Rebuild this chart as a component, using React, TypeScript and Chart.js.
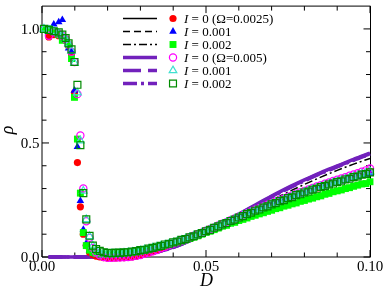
import React, { useEffect, useRef } from 'react';
import { Chart, registerables } from 'chart.js';

Chart.register(...registerables);

// ---------- data ----------
const D_DROP = [0.0006, 0.0021, 0.0036, 0.0051, 0.0062, 0.0072, 0.0081, 0.009, 0.0099, 0.0108, 0.0117, 0.0126, 0.0135, 0.0145, 0.0155, 0.0165, 0.0176, 0.0188];
const D_RISE = [0.02, 0.02125, 0.0225, 0.02375, 0.025, 0.02625, 0.0275, 0.02875, 0.03, 0.03125, 0.0325, 0.03375, 0.035, 0.03625, 0.0375, 0.03875, 0.04, 0.04125, 0.0425, 0.04375, 0.045, 0.04625, 0.0475, 0.04875, 0.05, 0.05125, 0.0525, 0.05375, 0.055, 0.05625, 0.0575, 0.05875, 0.06, 0.06125, 0.0625, 0.06375, 0.065, 0.06625, 0.0675, 0.06875, 0.07, 0.07125, 0.0725, 0.07375, 0.075, 0.07625, 0.0775, 0.07875, 0.08, 0.08125, 0.0825, 0.08375, 0.085, 0.08625, 0.0875, 0.08875, 0.09, 0.09125, 0.0925, 0.09375, 0.095, 0.09625, 0.0975, 0.09875, 0.1];

// Ω = 0.0025
const RED_DROP = [1.0, 0.965, 0.975, 0.97, 0.96, 0.95, 0.93, 0.89, 0.72, 0.414, 0.22, 0.1, 0.05, 0.02, 0.01, 0.004, 0.0, -0.003];
const RED_RISE = [-0.004, -0.004, -0.004, -0.003, -0.003, -0.002, 0.0, 0.003, 0.007, 0.012, 0.017, 0.023, 0.03, 0.037, 0.044, 0.052, 0.06, 0.067, 0.074, 0.08, 0.087, 0.094, 0.101, 0.108, 0.116, 0.123, 0.13, 0.137, 0.145, 0.152, 0.16, 0.167, 0.175, 0.182, 0.19, 0.197, 0.205, 0.211, 0.219, 0.225, 0.233, 0.239, 0.247, 0.253, 0.26, 0.266, 0.273, 0.279, 0.286, 0.291, 0.298, 0.303, 0.31, 0.315, 0.321, 0.327, 0.332, 0.337, 0.343, 0.348, 0.354, 0.358, 0.365, 0.369, 0.376];
const BLUE_DROP = [1.0, 1.0, 1.02, 1.03, 1.04, 0.96, 0.915, 0.9, 0.73, 0.483, 0.246, 0.12, 0.06, 0.03, 0.015, 0.01, 0.007, 0.006];
const BLUE_RISE = [0.006, 0.006, 0.007, 0.008, 0.009, 0.011, 0.014, 0.017, 0.021, 0.025, 0.03, 0.035, 0.04, 0.046, 0.051, 0.057, 0.062, 0.068, 0.074, 0.079, 0.085, 0.091, 0.098, 0.105, 0.112, 0.119, 0.127, 0.134, 0.142, 0.149, 0.157, 0.164, 0.172, 0.179, 0.186, 0.194, 0.201, 0.208, 0.215, 0.222, 0.229, 0.236, 0.243, 0.249, 0.256, 0.262, 0.269, 0.275, 0.281, 0.287, 0.293, 0.299, 0.305, 0.31, 0.316, 0.321, 0.327, 0.332, 0.337, 0.342, 0.347, 0.352, 0.357, 0.362, 0.366];
const GREEN_DROP = [1.0, 1.0, 0.99, 0.975, 0.95, 0.955, 0.93, 0.87, 0.7, 0.517, 0.28, 0.107, 0.05, 0.03, 0.02, 0.015, 0.013, 0.012];
const GREEN_RISE = [0.013, 0.012, 0.013, 0.014, 0.015, 0.017, 0.019, 0.022, 0.025, 0.028, 0.032, 0.036, 0.04, 0.045, 0.049, 0.054, 0.059, 0.064, 0.07, 0.075, 0.081, 0.087, 0.093, 0.1, 0.108, 0.113, 0.12, 0.127, 0.135, 0.139, 0.148, 0.152, 0.16, 0.165, 0.171, 0.178, 0.183, 0.189, 0.194, 0.2, 0.205, 0.212, 0.216, 0.223, 0.227, 0.233, 0.237, 0.244, 0.248, 0.254, 0.258, 0.264, 0.268, 0.275, 0.279, 0.286, 0.29, 0.294, 0.3, 0.304, 0.31, 0.315, 0.32, 0.322, 0.33];
// Ω = 0.005
const MAGENTA_DROP = [1.0, 0.97, 0.985, 0.98, 0.97, 0.955, 0.93, 0.9, 0.855, 0.714, 0.533, 0.3, 0.157, 0.084, 0.04, 0.02, 0.008, 0.0];
const MAGENTA_RISE = [-0.003, -0.003, -0.002, -0.002, -0.001, 0.0, 0.002, 0.005, 0.009, 0.014, 0.019, 0.025, 0.031, 0.038, 0.045, 0.052, 0.059, 0.066, 0.073, 0.079, 0.086, 0.093, 0.1, 0.107, 0.115, 0.122, 0.13, 0.138, 0.146, 0.153, 0.161, 0.169, 0.177, 0.184, 0.192, 0.2, 0.207, 0.214, 0.222, 0.229, 0.236, 0.243, 0.25, 0.257, 0.264, 0.27, 0.277, 0.284, 0.29, 0.296, 0.303, 0.309, 0.315, 0.321, 0.327, 0.333, 0.339, 0.344, 0.35, 0.356, 0.362, 0.367, 0.374, 0.38, 0.388];
const CYAN_DROP = [1.0, 0.99, 0.99, 0.98, 0.97, 0.955, 0.935, 0.905, 0.85, 0.72, 0.51, 0.29, 0.165, 0.09, 0.05, 0.03, 0.02, 0.016];
const CYAN_RISE = [0.015, 0.015, 0.016, 0.017, 0.018, 0.02, 0.022, 0.025, 0.028, 0.032, 0.035, 0.04, 0.044, 0.049, 0.053, 0.058, 0.063, 0.069, 0.074, 0.08, 0.086, 0.092, 0.098, 0.106, 0.113, 0.121, 0.128, 0.136, 0.143, 0.151, 0.158, 0.166, 0.174, 0.181, 0.188, 0.196, 0.203, 0.21, 0.218, 0.224, 0.232, 0.238, 0.246, 0.252, 0.259, 0.265, 0.272, 0.278, 0.285, 0.29, 0.297, 0.302, 0.309, 0.314, 0.32, 0.326, 0.331, 0.336, 0.342, 0.347, 0.353, 0.357, 0.364, 0.368, 0.374];
const SQUARE_DROP = [1.0, 0.995, 0.99, 0.985, 0.975, 0.96, 0.937, 0.91, 0.855, 0.755, 0.49, 0.28, 0.165, 0.093, 0.05, 0.035, 0.027, 0.021];
const SQUARE_RISE = [0.018, 0.017, 0.019, 0.018, 0.02, 0.021, 0.024, 0.026, 0.03, 0.032, 0.037, 0.04, 0.045, 0.049, 0.055, 0.058, 0.064, 0.068, 0.075, 0.079, 0.086, 0.091, 0.099, 0.105, 0.113, 0.119, 0.128, 0.134, 0.143, 0.149, 0.158, 0.164, 0.173, 0.179, 0.188, 0.194, 0.203, 0.208, 0.217, 0.222, 0.231, 0.236, 0.245, 0.249, 0.258, 0.262, 0.271, 0.275, 0.283, 0.287, 0.295, 0.299, 0.307, 0.311, 0.318, 0.322, 0.329, 0.332, 0.34, 0.343, 0.35, 0.353, 0.361, 0.364, 0.371];

// theory curves
const D_LINE = [0.002, 0.01, 0.02, 0.023, 0.026, 0.03, 0.035, 0.04, 0.045, 0.05, 0.055, 0.06, 0.065, 0.07, 0.075, 0.08, 0.085, 0.09, 0.095, 0.1];
const LINE_I0_W1 = [0, 0, 0, 0.001, 0.003, 0.009, 0.022, 0.043, 0.071, 0.106, 0.145, 0.187, 0.227, 0.266, 0.303, 0.337, 0.369, 0.398, 0.427, 0.454];
const LINE_I1_W1 = [0, 0, 0, 0.001, 0.003, 0.009, 0.022, 0.042, 0.07, 0.105, 0.144, 0.186, 0.225, 0.264, 0.301, 0.335, 0.367, 0.396, 0.424, 0.451];
const LINE_I2_W1 = [0, 0, 0, 0.001, 0.003, 0.009, 0.021, 0.041, 0.068, 0.1, 0.136, 0.174, 0.212, 0.249, 0.285, 0.318, 0.35, 0.38, 0.407, 0.432];
const LINE_I0_W2 = [0, 0, 0, 0.001, 0.003, 0.009, 0.022, 0.043, 0.072, 0.107, 0.146, 0.188, 0.228, 0.267, 0.304, 0.338, 0.37, 0.399, 0.428, 0.455];
const LINE_I1_W2 = [0, 0, 0, 0.001, 0.003, 0.009, 0.022, 0.042, 0.071, 0.106, 0.145, 0.186, 0.226, 0.265, 0.302, 0.336, 0.368, 0.397, 0.426, 0.453];
const LINE_I2_W2 = [0, 0, 0, 0.001, 0.003, 0.009, 0.021, 0.042, 0.07, 0.105, 0.143, 0.184, 0.224, 0.263, 0.3, 0.334, 0.366, 0.395, 0.424, 0.451];

const LEGEND_LABELS = ['I = 0 (Ω=0.0025)', 'I = 0.001', 'I = 0.002', 'I = 0 (Ω=0.005)', 'I = 0.001', 'I = 0.002'];

const X_MAJOR = [0, 0.05, 0.1];
const X_MAJOR_LABELS = ['0.00', '0.05', '0.10'];
const X_MINOR = [0.01, 0.02, 0.03, 0.04, 0.06, 0.07, 0.08, 0.09];
const Y_MAJOR = [0, 0.5, 1.0];
const Y_MAJOR_LABELS = ['0.0', '0.5', '1.0'];
const Y_MINOR = [0.1, 0.2, 0.3, 0.4, 0.6, 0.7, 0.8, 0.9];

// ---------- styles ----------
const BLACK = '#000000';
const INDIGO = '#7221bc';
const SERIF = '"Liberation Serif", "Times New Roman", serif';

const pts = (xs: number[], ys: number[]) => xs.map((x, i) => ({ x, y: ys[i] }));

type MarkerStyle = { shape: string; r: number; fill: string | null; stroke: string; lw: number };
type LineStyle = { color: string; width: number; dash: number[] };

const MARKERS: MarkerStyle[] = [
  { shape: 'circle', r: 3.6, fill: '#ff0000', stroke: '#ff0000', lw: 0 },
  { shape: 'triangle', r: 4.4, fill: '#0000ff', stroke: '#0000ff', lw: 0 },
  { shape: 'rect', r: 4.9, fill: '#00ff00', stroke: '#00ff00', lw: 0 },
  { shape: 'circle', r: 3.6, fill: null, stroke: '#ff00ff', lw: 1.2 },
  { shape: 'triangle', r: 4.4, fill: null, stroke: '#40e0d0', lw: 1.2 },
  { shape: 'rect', r: 4.9, fill: null, stroke: '#008b00', lw: 1.2 },
];
const LINES: LineStyle[] = [
  { color: BLACK, width: 1.5, dash: [] },
  { color: BLACK, width: 1.5, dash: [7, 4] },
  { color: BLACK, width: 1.5, dash: [8, 3, 2, 3] },
  { color: INDIGO, width: 3.5, dash: [] },
  { color: INDIGO, width: 3.5, dash: [18, 7] },
  { color: INDIGO, width: 3.5, dash: [14, 4, 3, 4] },
];

function drawMarker(ctx: CanvasRenderingContext2D, m: MarkerStyle, x: number, y: number) {
  ctx.beginPath();
  if (m.shape === 'circle') {
    ctx.arc(x, y, m.r, 0, Math.PI * 2);
  } else if (m.shape === 'triangle') {
    let rad = 0;
    ctx.moveTo(x + Math.sin(rad) * m.r, y - Math.cos(rad) * m.r);
    rad += (2 * Math.PI) / 3;
    ctx.lineTo(x + Math.sin(rad) * m.r, y - Math.cos(rad) * m.r);
    rad += (2 * Math.PI) / 3;
    ctx.lineTo(x + Math.sin(rad) * m.r, y - Math.cos(rad) * m.r);
    ctx.closePath();
  } else {
    const s = Math.SQRT1_2 * m.r;
    ctx.rect(x - s, y - s, 2 * s, 2 * s);
  }
  if (m.fill) {
    ctx.fillStyle = m.fill;
    ctx.fill();
  }
  if (m.lw > 0) {
    ctx.strokeStyle = m.stroke;
    ctx.lineWidth = m.lw;
    ctx.stroke();
  }
}

const framePlugin = {
  id: 'frameAndText',
  beforeDatasetsDraw(chart: any) {
    const { ctx, chartArea: a, scales } = chart;
    const xs = scales.x;
    const ys = scales.y;
    ctx.save();
    ctx.strokeStyle = BLACK;
    ctx.lineWidth = 1;
    ctx.beginPath();
    // frame
    ctx.moveTo(a.left, a.top);
    ctx.lineTo(a.left, a.bottom);
    ctx.moveTo(a.left, a.bottom);
    ctx.lineTo(a.right + 0.5, a.bottom);
    ctx.moveTo(a.left, a.top);
    ctx.lineTo(a.right + 0.5, a.top);
    ctx.moveTo(a.right + 0.5, a.top);
    ctx.lineTo(a.right + 0.5, a.bottom);
    const tick = (vals: number[], len: number) => {
      vals.forEach((v) => {
        const px = xs.getPixelForValue(v);
        ctx.moveTo(px, a.bottom);
        ctx.lineTo(px, a.bottom - len);
        ctx.moveTo(px, a.top);
        ctx.lineTo(px, a.top + len);
      });
    };
    const ytick = (vals: number[], len: number) => {
      vals.forEach((v) => {
        const py = ys.getPixelForValue(v);
        ctx.moveTo(a.left, py);
        ctx.lineTo(a.left + len, py);
        ctx.moveTo(a.right + 0.5, py);
        ctx.lineTo(a.right + 0.5 - len, py);
      });
    };
    tick(X_MAJOR, 7);
    tick(X_MINOR, 4.5);
    ytick(Y_MAJOR, 7);
    ytick(Y_MINOR, 4.5);
    ctx.stroke();
    ctx.restore();
  },
  afterDraw(chart: any) {
    const { ctx, chartArea: a, scales } = chart;
    const xs = scales.x;
    const ys = scales.y;
    ctx.save();
    ctx.fillStyle = BLACK;
    ctx.font = `15px ${SERIF}`;
    ctx.textBaseline = 'alphabetic';
    ctx.textAlign = 'center';
    X_MAJOR.forEach((v, i) => {
      ctx.fillText(X_MAJOR_LABELS[i], xs.getPixelForValue(v), a.bottom + 14);
    });
    ctx.textAlign = 'right';
    Y_MAJOR.forEach((v, i) => {
      ctx.fillText(Y_MAJOR_LABELS[i], a.left - 2.5, ys.getPixelForValue(v) + 5);
    });
    // axis titles
    ctx.font = `italic 18px ${SERIF}`;
    ctx.textAlign = 'center';
    ctx.fillText('D', (a.left + a.right) / 2 + 0.5, 286);
    ctx.save();
    ctx.translate(13, 130);
    ctx.rotate(-Math.PI / 2);
    ctx.fillText('ρ', 0, 0);
    ctx.restore();

    // legend
    const rowY0 = 18.5;
    const rowDy = 13;
    LEGEND_LABELS.forEach((label, i) => {
      const y = rowY0 + rowDy * i;
      const ls = LINES[i];
      ctx.save();
      ctx.strokeStyle = ls.color;
      ctx.lineWidth = ls.width;
      ctx.setLineDash(ls.dash);
      ctx.beginPath();
      ctx.moveTo(123, y);
      ctx.lineTo(157, y);
      ctx.stroke();
      ctx.restore();
      drawMarker(ctx, MARKERS[i], 173, y);
      ctx.fillStyle = BLACK;
      ctx.textAlign = 'left';
      ctx.font = `italic 13px ${SERIF}`;
      const first = label.slice(0, 1);
      ctx.fillText(first, 184, y + 4.5);
      const w = ctx.measureText(first).width;
      ctx.font = `13px ${SERIF}`;
      ctx.fillText(label.slice(1), 184 + w, y + 4.5);
    });
    ctx.restore();
  },
};

export default function App() {
  const ref = useRef<HTMLCanvasElement>(null);
  useEffect(() => {
    document.body.style.margin = '0';
    const canvas = ref.current;
    if (!canvas) return;
    const lineData = [LINE_I0_W1, LINE_I1_W1, LINE_I2_W1, LINE_I0_W2, LINE_I1_W2, LINE_I2_W2];
    const lineOrders = [15, 14, 13, 10, 11, 12];
    const lineSets = lineData.map((vals, i) => ({
      label: 'line ' + LEGEND_LABELS[i],
      data: pts(D_LINE, vals),
      showLine: true,
      pointRadius: 0,
      borderColor: LINES[i].color,
      borderWidth: LINES[i].width,
      borderDash: LINES[i].dash,
      cubicInterpolationMode: 'monotone',
      fill: false,
      clip: false,
      order: lineOrders[i],
    }));
    const markData = [
      [...RED_DROP, ...RED_RISE],
      [...BLUE_DROP, ...BLUE_RISE],
      [...GREEN_DROP, ...GREEN_RISE],
      [...MAGENTA_DROP, ...MAGENTA_RISE],
      [...CYAN_DROP, ...CYAN_RISE],
      [...SQUARE_DROP, ...SQUARE_RISE],
    ];
    const dAll = [...D_DROP, ...D_RISE];
    const markSets = markData.map((vals, i) => ({
      label: LEGEND_LABELS[i],
      data: pts(dAll, vals),
      showLine: false,
      pointStyle: MARKERS[i].shape,
      pointRadius: MARKERS[i].r,
      pointBackgroundColor: MARKERS[i].fill || 'rgba(0,0,0,0)',
      pointBorderColor: MARKERS[i].stroke,
      pointBorderWidth: MARKERS[i].lw,
      clip: false,
      order: 6 - i,
    }));
    const chart = new Chart(canvas, {
      type: 'scatter',
      data: { datasets: [...lineSets, ...markSets] as any },
      options: {
        animation: false,
        responsive: false,
        maintainAspectRatio: false,
        events: [],
        layout: { padding: { left: 42, right: 15, top: 1, bottom: 32 } },
        plugins: { legend: { display: false }, tooltip: { enabled: false } },
        scales: {
          x: { type: 'linear', min: 0, max: 0.1, display: false },
          y: { type: 'linear', min: 0, max: 1.1, display: false },
        },
      },
      plugins: [framePlugin],
    });
    return () => chart.destroy();
  }, []);
  return <canvas ref={ref} width={385} height={289} style={{ display: 'block', width: 385, height: 289 }} />;
}
